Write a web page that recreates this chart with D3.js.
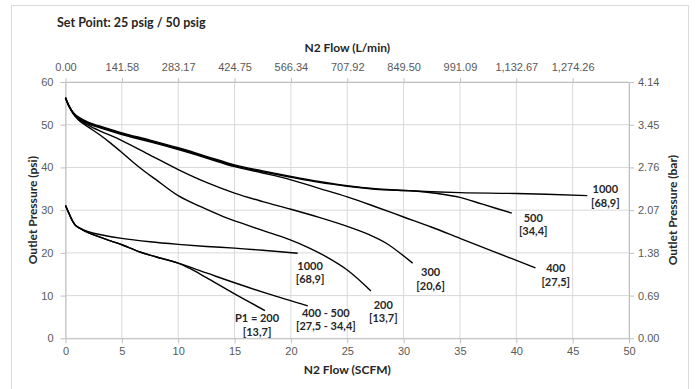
<!DOCTYPE html>
<html>
<head>
<meta charset="utf-8">
<script src="https://cdn.jsdelivr.net/npm/d3@7"></script>
<style>
body { margin: 0; background: #fff; }
svg { display: block; font-family: Lato, "Open Sans", sans-serif; }
.tick text { fill: #595959; font-size: 11px; }
.axis path, .axis line { stroke: #bfbfbf; }
.grid line { stroke: #d9d9d9; }
.title { font-weight: bold; fill: #262626; }
.curve { fill: none; stroke: #000; stroke-width: 1.4; }
.lbl { font-weight: bold; font-size: 11px; fill: #262626; }
</style>
</head>
<body>
<svg width="696" height="389"></svg>
<script>
// axis ticks
var flowTicks = [0, 5, 10, 15, 20, 25, 30, 35, 40, 45, 50];
var psiTicks = [0, 10, 20, 30, 40, 50, 60];
var barTicks = [0, 0.69, 1.38, 2.07, 2.76, 3.45, 4.14];
var lpmTicks = [0, 141.58, 283.17, 424.75, 566.34, 707.92, 849.50, 991.09, 1132.67, 1274.26];

// set point 50 psig, [flow SCFM, outlet psi]
var hi1000 = [[0,56.3],[0.3,54.4],[0.7,52.8],[1.2,51.7],[2,50.6],[3,49.7],[5,48.1],[7.5,46.4],[10,44.6],[12.5,42.6],[15,40.6],[17.5,39.2],[20,37.9],[22.5,36.7],[25,35.7],[27.5,35.0],[30,34.6],[35,34.1],[40,33.9],[46.3,33.4]];
var hi500 = [[0,56.3],[0.3,54.4],[0.7,52.7],[1.2,51.5],[2,50.4],[3,49.5],[5,47.9],[7.5,46.2],[10,44.4],[12.5,42.4],[15,40.4],[17.5,39.0],[20,37.7],[22.5,36.5],[25,35.6],[27.5,34.9],[30,34.6],[31,34.5],[33,33.9],[35,33.0],[37,31.4],[39.6,29.3]];
var hi400 = [[0,56.3],[0.3,54.4],[0.7,52.7],[1.2,51.4],[2,50.2],[3,49.3],[5,47.7],[7.5,46.0],[10,44.2],[12.5,42.2],[15,40.2],[17.5,38.7],[20,37.1],[22.5,35.1],[25,33.1],[27.5,30.8],[30,28.4],[32.5,26.0],[35,23.4],[38,20.3],[41.7,16.5]];
var hi300 = [[0,56.3],[0.3,54.4],[0.7,52.6],[1.2,51.2],[2,49.9],[3,48.6],[5,46.3],[7.5,42.9],[10,39.5],[12.5,36.5],[15,34.0],[17.5,32.0],[20,30.2],[22.5,28.3],[25,26.2],[27,24.2],[28.5,22.2],[30.8,17.6]];
var hi200 = [[0,56.3],[0.3,54.4],[0.7,52.5],[1.2,51.0],[2,49.5],[3,47.7],[4,45.7],[5,43.5],[6,41.2],[7,39.1],[8,37.2],[10,33.4],[12,30.8],[14,28.5],[16,26.6],[18,24.8],[20,23.0],[21.5,21.3],[23,19.3],[25,16.0],[27.1,11.1]];

// set point 25 psig
var lo1000 = [[0,31.1],[0.3,29.3],[0.6,27.6],[0.9,26.4],[1.5,25.5],[2.5,24.6],[5,23.4],[7.5,22.6],[10,22.0],[12.5,21.5],[15,21.1],[17.5,20.6],[20.6,19.9]];
var lo400500 = [[0,31.1],[0.3,29.3],[0.6,27.6],[0.9,26.4],[1.5,25.4],[2.5,24.2],[4,22.8],[5,21.9],[6.6,20.2],[8,19.1],[10,17.6],[12.5,15.3],[15,13.0],[18,10.4],[21.5,7.6]];
var lo200 = [[0,31.1],[0.3,29.3],[0.6,27.6],[0.9,26.4],[1.5,25.4],[2.5,24.2],[4,22.8],[5,21.9],[6.6,20.2],[8,19.1],[10,17.6],[11,16.4],[12.5,14.2],[15,10.4],[17.7,6.5]];

var series = [hi1000, hi500, hi400, hi300, hi200, lo1000, lo400500, lo200];

// curve labels: [flow, psi, line1, line2]
var labels = [
    [47.9, 34.9, "1000", "[68,9]"],
    [41.5, 28.2, "500", "[34,4]"],
    [43.5, 16.4, "400", "[27,5]"],
    [32.4, 15.4, "300", "[20,6]"],
    [28.2, 7.8, "200", "[13,7]"],
    [21.7, 16.9, "1000", "[68,9]"],
    [23.1, 5.9, "400 - 500", "[27,5 - 34,4]"],
    [17.0, 4.7, "P1 = 200", "[13,7]"]
];

var svg = d3.select("svg");
var pLeft = 65.5, pRight = 629, pTop = 82, pBottom = 338.3;

var x = d3.scaleLinear().domain([0, 50]).range([pLeft, pRight]);
var y = d3.scaleLinear().domain([0, 60]).range([pBottom, pTop]);
var yBar = d3.scaleLinear().domain([0, 4.14]).range([pBottom, pTop]);
var xLpm = d3.scaleLinear().domain([0, 50 * 28.3168]).range([pLeft, pRight]);

// chart border
svg.append("rect")
    .attr("x", 11.5).attr("y", 5.5)
    .attr("width", 677).attr("height", 400)
    .attr("fill", "none").attr("stroke", "#d9d9d9");

// grid
var grid = svg.append("g").attr("class", "grid");
grid.selectAll(".h").data(psiTicks).enter().append("line")
    .attr("x1", pLeft).attr("x2", pRight)
    .attr("y1", d => y(d)).attr("y2", d => y(d));
grid.selectAll(".v").data(flowTicks).enter().append("line")
    .attr("x1", d => x(d)).attr("x2", d => x(d))
    .attr("y1", pTop).attr("y2", pBottom);

// axes
svg.append("g").attr("class", "axis")
    .attr("transform", "translate(0," + pBottom + ")")
    .call(d3.axisBottom(x).tickValues(flowTicks).tickSize(5).tickSizeOuter(0).tickPadding(4));
svg.append("g").attr("class", "axis")
    .attr("transform", "translate(0," + pTop + ")")
    .call(d3.axisTop(xLpm).tickValues(lpmTicks).tickSize(4).tickSizeOuter(0).tickPadding(7)
        .tickFormat(d3.format(",.2f")));
svg.append("g").attr("class", "axis")
    .attr("transform", "translate(" + pLeft + ",0)")
    .call(d3.axisLeft(y).tickValues(psiTicks).tickSize(5).tickSizeOuter(0).tickPadding(7));
svg.append("g").attr("class", "axis")
    .attr("transform", "translate(" + pRight + ",0)")
    .call(d3.axisRight(yBar).tickValues(barTicks).tickSize(5).tickSizeOuter(0).tickPadding(4)
        .tickFormat(d3.format(".2f")));
svg.selectAll(".axis .domain").attr("stroke", "#bfbfbf");

// curves
var line = d3.line()
    .x(d => x(d[0]))
    .y(d => y(d[1]))
    .curve(d3.curveCatmullRom.alpha(0.5));

svg.selectAll(".curve").data(series).enter().append("path")
    .attr("class", "curve")
    .attr("d", line);

// curve labels
var lbl = svg.selectAll(".lbl").data(labels).enter().append("text")
    .attr("class", "lbl")
    .attr("text-anchor", "middle");
lbl.append("tspan")
    .attr("x", d => x(d[0])).attr("y", d => y(d[1])).attr("dy", "0.35em")
    .text(d => d[2]);
lbl.append("tspan")
    .attr("x", d => x(d[0])).attr("y", d => y(d[1]) + 13.5).attr("dy", "0.35em")
    .text(d => d[3]);

// titles
svg.append("text").attr("class", "title")
    .attr("x", 57).attr("y", 27)
    .style("font-size", "12.5px")
    .text("Set Point: 25 psig / 50 psig");

svg.append("text").attr("class", "title")
    .attr("x", (pLeft + pRight) / 2).attr("y", 52)
    .attr("text-anchor", "middle")
    .style("font-size", "12px")
    .text("N2 Flow (L/min)");

svg.append("text").attr("class", "title")
    .attr("x", (pLeft + pRight) / 2).attr("y", 374)
    .attr("text-anchor", "middle")
    .style("font-size", "12px")
    .text("N2 Flow (SCFM)");

svg.append("text").attr("class", "title")
    .attr("transform", "translate(37," + (pTop + pBottom) / 2 + ") rotate(-90)")
    .attr("text-anchor", "middle")
    .style("font-size", "12px")
    .text("Outlet Pressure (psi)");

svg.append("text").attr("class", "title")
    .attr("transform", "translate(677," + (pTop + pBottom) / 2 + ") rotate(-90)")
    .attr("text-anchor", "middle")
    .style("font-size", "12px")
    .text("Outlet Pressure (bar)");
</script>
</body>
</html>
